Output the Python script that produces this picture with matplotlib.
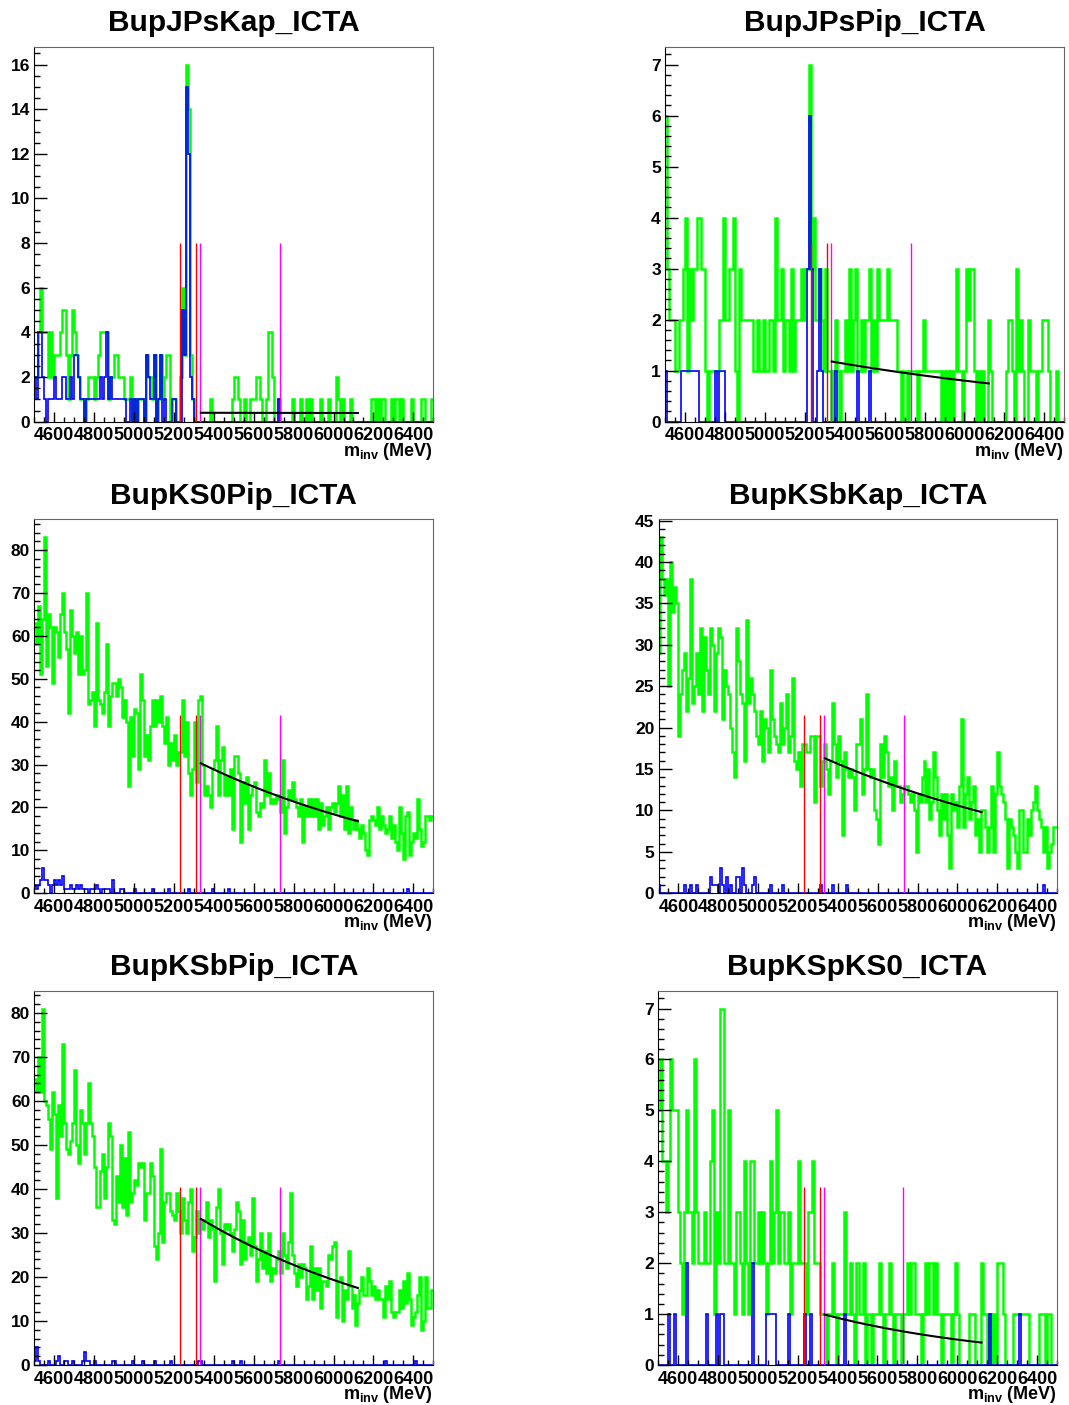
import numpy as np
import matplotlib.pyplot as plt
from matplotlib.ticker import MultipleLocator

plt.rcParams['font.family'] = ['Liberation Sans', 'DejaVu Sans']
plt.rcParams['font.weight'] = 'bold'
plt.rcParams['mathtext.fontset'] = 'custom'
plt.rcParams['mathtext.rm'] = 'Liberation Sans:bold'
plt.rcParams['mathtext.it'] = 'Liberation Sans:bold'
plt.rcParams['mathtext.bf'] = 'Liberation Sans:bold'

# 10 MeV bins from 4500 to 6500 MeV
mass_lo, mass_hi, bin_w = 4500, 6500, 10

titles = ['BupJPsKap_ICTA', 'BupJPsPip_ICTA', 'BupKS0Pip_ICTA',
          'BupKSbKap_ICTA', 'BupKSbPip_ICTA', 'BupKSpKS0_ICTA']

# green = all candidates, blue = selected, one row per 200 MeV
green1 = [2,2,4,6,4,4,4,2,4,2, 3,3,3,4,5,5,3,1,3,5,
          4,3,2,1,1,0,1,2,2,2, 1,2,3,4,4,4,4,1,2,2,
          3,3,2,2,2,1,1,1,2,0, 1,0,1,1,1,0,3,2,2,1,
          3,0,1,3,1,2,3,3,0,1, 1,0,0,2,6,3,16,14,3,1,
          0,0,0,0,0,0,0,0,1,0, 0,0,0,0,0,0,0,0,0,1,
          2,2,1,0,0,1,0,0,1,1, 1,2,2,1,0,0,1,4,4,2,
          0,0,1,0,0,0,0,0,0,1, 0,0,0,1,0,0,1,0,1,0,
          0,0,0,1,0,0,0,1,0,0, 0,2,1,0,1,0,0,0,1,0,
          0,0,0,0,0,0,0,0,0,1, 1,0,1,0,1,1,0,0,0,1,
          0,1,1,0,1,0,0,0,0,1, 0,0,0,0,1,1,0,0,0,1]
blue1 = [2,1,4,4,2,1,0,1,1,1, 2,1,1,1,2,2,1,1,2,1,
         3,3,2,1,1,0,1,1,1,1, 1,1,1,2,1,2,4,1,2,1,
         1,1,1,1,1,1,0,0,1,0, 1,0,1,1,1,0,3,2,1,1,
         3,0,1,3,0,1,0,0,0,1, 1,0,0,0,5,3,15,12,2,1,
         0,0,0,0,0,0,0,0,0,0, 0,0,0,0,0,0,0,0,0,0,
         0,0,0,0,0,0,0,0,0,0, 0,0,0,0,0,0,0,0,0,0,
         0,0,1,0,0,0,0,0,0,0, 0,0,0,0,0,0,0,0,0,0,
         0,0,0,0,0,0,0,0,0,0, 0,0,0,0,0,0,0,0,0,0,
         0,0,0,0,0,0,0,0,0,0, 0,0,0,0,0,0,0,0,0,0,
         0,0,0,0,0,0,0,0,0,0, 0,0,0,0,0,0,0,0,0,0]

green2 = [6,3,2,2,2,1,1,2,2,3, 4,1,3,2,3,3,4,4,3,3,
          1,0,1,1,1,1,1,2,2,4, 2,2,3,3,4,1,0,3,2,2,
          2,2,2,2,1,1,2,1,1,2, 1,1,2,2,1,4,2,2,3,1,
          2,2,1,3,1,2,2,2,3,2, 3,3,7,3,4,2,2,3,2,1,
          3,1,1,0,1,2,1,0,1,1, 2,1,3,1,2,3,1,1,2,1,
          2,2,3,1,2,1,3,2,2,2, 2,3,2,2,2,2,1,1,0,1,
          1,0,1,1,1,1,0,1,1,2, 1,1,1,1,1,1,1,1,0,1,
          0,1,0,1,0,1,3,1,1,0, 1,3,2,3,3,1,0,1,0,1,
          0,0,2,1,0,0,0,0,0,0, 0,1,2,2,1,0,3,1,2,1,
          0,0,2,1,1,1,0,1,1,2, 2,2,1,0,0,0,1,0,0,0]
blue2 = [1,0,0,0,0,0,0,0,1,1, 1,1,1,1,1,1,1,0,0,0,
         0,0,0,0,0,1,0,1,1,1, 0,0,0,0,0,0,0,0,0,0,
         0,0,0,0,0,0,0,0,0,0, 0,0,0,0,0,0,0,0,0,0,
         0,0,0,0,0,0,0,0,0,0, 0,3,6,3,0,0,1,3,1,0,
         0,0,0,0,0,1,0,0,0,0, 0,0,0,0,0,0,1,0,0,0,
         0,0,1,0,0,0,0,0,0,0, 0,0,0,0,0,0,0,0,0,0,
         0,0,0,0,0,0,0,0,0,0, 0,0,0,0,0,0,0,0,0,0,
         0,0,0,0,0,0,0,0,0,0, 0,0,0,0,0,0,0,0,0,0,
         0,0,0,0,0,0,0,0,0,0, 0,0,0,0,0,0,0,0,0,0,
         0,0,0,0,0,0,0,0,0,0, 0,0,0,0,0,0,0,0,0,0]

green3 = [63,58,67,51,64,83,53,65,62,49, 62,61,55,65,70,61,57,42,66,60,
          56,61,51,60,51,52,70,44,45,47, 39,63,45,44,42,47,58,39,46,49,
          49,46,50,48,41,45,40,25,41,32, 43,42,29,51,45,32,37,31,39,45,
          39,45,40,46,39,35,41,30,35,31, 37,30,33,33,45,32,40,28,23,29,
          40,26,45,46,30,23,25,23,20,29, 31,39,23,31,34,23,27,23,29,15,
          32,32,28,12,26,21,27,15,23,25, 26,19,18,21,20,31,23,28,21,22,
          21,23,22,19,31,14,20,24,22,26, 22,20,18,22,12,20,18,22,18,22,
          18,22,15,21,16,18,20,15,20,21, 19,21,25,18,23,15,25,14,20,17,
          15,17,15,13,16,14,10,9,17,18, 17,16,20,15,18,16,14,15,18,13,
          16,12,10,20,14,8,18,19,9,12, 14,13,22,15,11,12,18,18,17,18]
blue3 = [2,1,2,3,6,3,3,2,0,2, 3,2,3,2,4,1,1,1,2,1,
         1,2,1,2,1,1,1,0,1,1, 1,2,1,0,1,1,1,1,0,3,
         0,0,0,1,1,0,0,0,0,0, 1,0,0,0,0,0,0,0,0,1,
         0,0,0,0,0,0,0,1,0,0, 0,0,0,0,0,0,0,1,0,0,
         0,0,0,0,0,0,0,0,0,1, 0,0,0,0,0,0,0,1,0,0,
         0,0,0,0,0,0,0,0,0,0, 0,0,0,0,0,0,0,0,0,0,
         0,0,0,0,0,0,0,0,0,0, 0,0,0,0,0,0,0,0,0,0,
         0,0,0,0,0,0,0,0,0,0, 0,0,0,0,0,0,0,0,0,0,
         0,0,0,0,0,0,0,0,0,0, 0,0,0,0,0,0,0,0,0,0,
         0,0,0,0,0,0,0,1,0,0, 0,0,0,0,0,0,0,0,0,0]

green4 = [29,43,38,36,38,25,40,34,37,35, 19,24,27,29,22,26,38,23,25,29,
          24,32,22,31,27,24,32,30,22,29, 32,31,21,27,25,24,20,17,14,32,
          28,24,23,16,33,23,26,24,22,19, 18,22,16,21,20,17,27,21,19,18,
          17,23,18,20,24,17,19,26,16,15, 17,13,18,18,17,17,19,19,11,19,
          19,13,16,18,15,12,16,23,18,14, 19,16,7,17,15,14,15,14,10,18,
          18,21,12,15,24,15,14,15,10,9, 6,18,14,19,17,13,14,10,16,13,
          13,11,12,13,13,12,11,12,10,5, 12,11,14,16,11,15,9,11,17,14,
          10,7,12,9,12,7,3,12,10,11, 8,13,21,8,12,14,9,11,13,7,
          9,5,10,10,8,5,8,13,5,12, 17,13,12,11,9,3,9,8,7,5,
          3,10,10,5,5,9,7,10,11,13, 10,9,8,5,8,3,5,6,8,8]
blue4 = [1,0,0,0,0,0,0,0,0,0, 0,0,0,1,0,0,1,0,0,1,
         0,0,0,0,0,0,2,1,1,1, 0,3,1,0,2,0,1,0,0,2,
         2,0,3,1,0,0,0,1,2,0, 0,0,0,0,0,0,1,0,0,0,
         0,0,1,0,0,0,0,0,0,0, 0,0,0,0,0,0,0,0,0,0,
         0,1,0,0,0,0,0,1,0,0, 0,0,0,0,1,0,0,0,0,0,
         0,0,0,0,0,0,0,0,0,0, 0,0,0,0,0,0,0,0,0,0,
         0,0,0,0,0,0,0,0,0,0, 0,0,0,0,0,0,0,0,0,0,
         0,0,0,0,0,0,0,0,0,0, 0,0,0,0,0,0,0,0,0,0,
         0,0,0,0,0,0,0,0,0,0, 0,0,0,0,0,0,0,0,0,0,
         0,0,0,0,0,0,0,0,0,0, 0,0,0,1,0,0,0,0,0,0]

green5 = [65,62,70,62,81,60,59,56,49,62, 57,38,59,52,73,55,49,48,51,55,
          67,50,46,58,55,48,55,64,55,52, 45,36,36,44,48,38,45,55,52,33,
          32,43,37,50,36,47,34,53,37,39, 42,41,46,45,46,33,39,39,46,43,
          27,24,30,49,28,37,39,39,35,34, 33,39,35,30,38,33,30,37,40,26,
          29,35,30,33,31,33,37,29,33,31, 19,36,40,30,23,32,31,32,30,26,
          31,37,35,23,33,24,28,29,25,38, 27,19,24,30,22,26,21,30,19,22,
          21,24,26,21,30,25,22,28,39,25, 21,18,23,20,23,22,15,18,27,15,
          22,17,22,13,19,19,18,25,24,27, 28,11,19,20,10,17,15,26,18,13,
          16,9,14,17,20,16,16,22,19,16, 18,15,17,15,15,11,18,15,19,12,
          11,12,12,17,13,19,14,21,15,9, 11,12,16,20,8,10,20,13,13,17]
blue5 = [1,4,1,0,0,0,0,1,0,0, 0,1,2,0,0,1,1,0,0,1,
         0,0,0,0,1,3,1,1,0,0, 1,0,0,0,0,0,0,0,0,1,
         1,0,0,0,0,0,0,0,0,1, 0,0,0,0,1,0,0,0,0,0,
         1,0,0,0,0,0,0,0,1,0, 0,0,0,0,0,0,0,0,0,0,
         0,0,1,1,0,0,0,0,0,0, 0,0,0,0,0,0,0,0,0,1,
         0,0,0,1,0,0,0,0,0,0, 0,0,0,0,0,0,0,0,0,0,
         0,0,1,0,0,0,0,0,0,0, 0,0,0,0,0,0,0,0,0,0,
         0,0,0,0,0,0,0,0,0,0, 0,0,0,0,0,0,0,0,0,0,
         0,0,0,0,0,0,0,0,0,0, 0,0,0,0,0,0,1,0,0,0,
         0,0,0,0,0,0,0,0,0,0, 0,1,0,0,0,0,0,0,0,0]

green6 = [5,6,4,4,3,4,6,5,5,5, 3,2,1,3,5,3,3,2,6,3,
          2,2,2,3,2,2,4,5,1,3, 2,7,7,2,2,5,2,2,1,3,
          3,2,1,4,2,1,4,4,2,2, 3,2,3,2,1,2,4,2,3,5,
          2,3,3,2,2,3,1,2,2,2, 4,2,2,2,1,3,3,4,2,2,
          2,1,1,1,0,1,1,2,1,0, 1,1,1,3,1,1,2,1,0,2,
          2,1,1,2,0,1,1,0,1,1, 1,2,1,0,1,1,2,1,0,1,
          1,1,0,1,1,2,1,2,2,1, 1,1,0,1,2,1,2,2,1,2,
          1,1,0,1,1,1,1,0,1,2, 1,0,0,0,0,0,1,1,1,0,
          0,0,2,1,1,0,1,0,1,0, 2,2,2,1,0,0,0,0,1,1,
          1,1,1,1,1,1,0,0,0,0, 0,1,1,1,0,1,1,0,0,0]
blue6 = [0,0,0,0,0,1,0,0,1,0, 0,0,0,0,2,0,0,0,0,0,
         0,0,0,0,1,0,0,0,0,1, 0,1,1,0,0,0,0,0,0,0,
         0,0,0,0,0,0,0,2,0,0, 0,0,0,0,1,1,1,1,1,0,
         0,0,0,0,0,1,0,0,0,0, 0,0,0,1,0,0,1,0,0,0,
         0,0,0,0,0,0,0,0,0,0, 0,0,0,1,0,0,0,0,0,0,
         0,0,0,0,0,0,0,0,0,0, 0,0,0,0,0,0,0,0,0,0,
         0,0,0,0,0,0,0,0,0,0, 0,0,0,0,0,0,0,0,0,0,
         0,0,0,0,0,0,0,0,0,0, 0,0,0,0,0,0,0,0,0,0,
         0,0,0,0,0,0,1,0,0,0, 0,0,0,0,0,0,0,0,0,0,
         0,1,0,0,0,0,0,0,0,0, 0,0,0,0,0,0,0,0,0,0]

green = [green1, green2, green3, green4, green5, green6]
blue = [blue1, blue2, blue3, blue4, blue5, blue6]

# window markers and exponential background fit (start / end values)
red_lines = [5230, 5310]
mag_lines = [5330, 5730]
fit_lo, fit_hi = 5335, 6122
fit_start = [0.40, 1.18, 30.3, 16.3, 33.2, 0.99]
fit_end = [0.39, 0.75, 16.8, 9.8, 17.5, 0.44]

y_major = [2, 1, 10, 5, 10, 1]
y_minor = [0.5, 0.2, 2, 1, 2, 0.2]

W, H = 1069, 1405
# frame boxes in pixels: left, top, right, bottom
frames = [(34.3, 46.7, 433.3, 421.7), (665, 46.7, 1064.3, 421.7),
          (34.3, 519.3, 433.3, 893.3), (658.5, 519.3, 1057, 893.3),
          (34.3, 990.7, 433.3, 1365), (658, 990.7, 1057, 1365)]

edges = np.arange(mass_lo, mass_hi + bin_w, bin_w)

fig = plt.figure(figsize=(W/100, H/100), dpi=100)

for k in range(6):
    l, t, r, b = frames[k]
    ax = fig.add_axes([l/W, 1 - b/H, (r - l)/W, (b - t)/H])
    g = np.array(green[k])
    bl = np.array(blue[k])
    assert len(g) == 200 and len(bl) == 200

    ax.stairs(g, edges, baseline=None, color='#00ff00', lw=1.8)
    ax.stairs(bl, edges, baseline=None, color='#0000ff', lw=1.2)

    top = g.max()
    ax.vlines(red_lines, 0, top/2, colors='#ff0000', lw=1)
    ax.vlines(mag_lines, 0, top/2, colors='#ff00ff', lw=1)

    xf = np.linspace(fit_lo, fit_hi, 100)
    yf = fit_start[k]*(fit_end[k]/fit_start[k])**((xf - fit_lo)/(fit_hi - fit_lo))
    ax.plot(xf, yf, color='black', lw=1.5)

    ax.set_xlim(mass_lo, mass_hi)
    ax.set_ylim(0, top*1.05)
    ax.xaxis.set_minor_locator(MultipleLocator(50))
    ax.yaxis.set_major_locator(MultipleLocator(y_major[k]))
    ax.yaxis.set_minor_locator(MultipleLocator(y_minor[k]))
    ax.set_xticks(np.arange(4600, 6401, 200))
    ax.tick_params(which='both', direction='in', top=False, right=False, width=1)
    ax.tick_params(axis='x', which='major', length=7, labelsize=13, pad=4)
    ax.tick_params(axis='x', which='minor', length=3.5)
    ax.tick_params(axis='y', which='major', length=9, labelsize=12.5, pad=3)
    ax.tick_params(axis='y', which='minor', length=4)
    for lab in ax.get_xticklabels() + ax.get_yticklabels():
        lab.set_fontweight('bold')

    for s in ['top', 'right']:
        ax.spines[s].set_color('#666666')
    for s in ['left', 'bottom']:
        ax.spines[s].set_color('black')

    ax.text(0.5, 1 + 23.5/(b - t), titles[k], transform=ax.transAxes,
            ha='center', va='center', fontsize=21.5, fontweight='bold')
    ax.text(1.0, -29.5/(b - t), r'm$_{\mathrm{inv}}$ (MeV)', transform=ax.transAxes,
            ha='right', va='center', fontsize=13, fontweight='bold')

fig.savefig('out.png', dpi=100)
